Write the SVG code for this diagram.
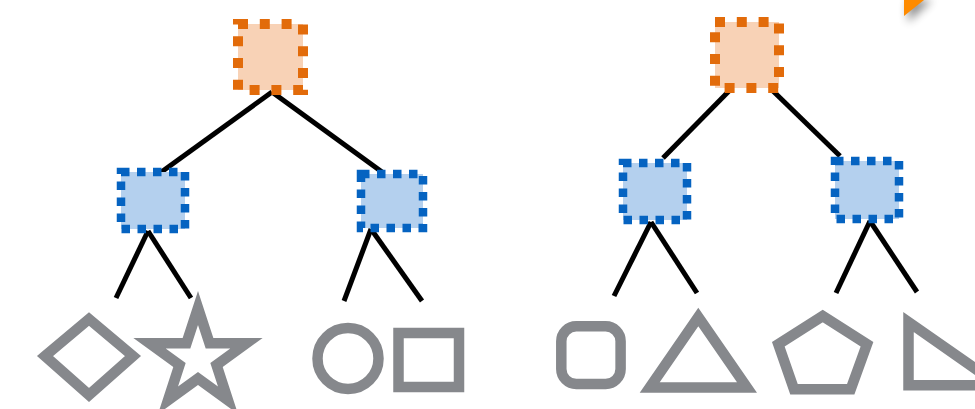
<svg xmlns="http://www.w3.org/2000/svg" width="975" height="409" viewBox="0 0 975 409">
<style>
.root{fill:#f8d2b6;stroke:#e26b0a;stroke-width:10;stroke-dasharray:10 11.8}
.child{fill:#b4d0ee;stroke:#0563c1;stroke-width:8.5;stroke-dasharray:8.5 7.5}
.edge{stroke:#000;stroke-width:5;fill:none}
.shape{fill:none;stroke:#86888c;stroke-width:10.5;stroke-linejoin:miter}
</style>
<defs>
<filter id="sh" x="-100%" y="-100%" width="300%" height="300%">
<feGaussianBlur stdDeviation="5"/>
</filter>
</defs>
<g id="connectors">
<line class="edge" x1="272" y1="92" x2="160" y2="173"/>
<line class="edge" x1="272" y1="92" x2="382" y2="172"/>
<line class="edge" x1="148" y1="231" x2="116" y2="298"/>
<line class="edge" x1="148" y1="231" x2="191" y2="298"/>
<line class="edge" x1="371" y1="229" x2="344" y2="301"/>
<line class="edge" x1="371" y1="229" x2="422" y2="301"/>
<line class="edge" x1="729" y1="91" x2="663" y2="158"/>
<line class="edge" x1="773" y1="91" x2="840" y2="156"/>
<line class="edge" x1="651" y1="222" x2="614" y2="296"/>
<line class="edge" x1="651" y1="222" x2="697" y2="293"/>
<line class="edge" x1="870" y1="221" x2="836" y2="293"/>
<line class="edge" x1="870" y1="221" x2="917" y2="292"/>
</g>
<g id="root-left"><rect class="root" x="238" y="24" width="65" height="66"/></g>
<g id="child-left-a"><rect class="child" x="121" y="172" width="64" height="57"/></g>
<g id="child-left-b"><rect class="child" x="361" y="174" width="62" height="54"/></g>
<g id="root-right"><rect class="root" x="715" y="22" width="64" height="66"/></g>
<g id="child-right-a"><rect class="child" x="623" y="163" width="64" height="57"/></g>
<g id="child-right-b"><rect class="child" x="835" y="161" width="64" height="58"/></g>
<g id="diamond"><polygon class="shape" points="45,356 89,319 133,356 89,395"/></g>
<g id="star"><polygon class="shape" points="198,308 209.5,343.2 246.5,343.2 216.5,365 228,400.3 198,378.5 168,400.3 179.5,365 149.5,343.2 186.5,343.2"/></g>
<g id="circle"><circle class="shape" cx="348" cy="358.5" r="30.5"/></g>
<g id="square"><rect class="shape" x="398.5" y="333" width="60.5" height="54"/></g>
<g id="rounded-square"><rect class="shape" x="561.3" y="326.3" width="59.3" height="57.7" rx="15"/></g>
<g id="triangle"><polygon class="shape" points="698.3,317 747,387.5 649.7,387.5"/></g>
<g id="pentagon"><polygon class="shape" points="822.7,316 867,344.2 850.7,389.3 794,389.3 778.3,344.2"/></g>
<g id="right-triangle"><polygon class="shape" points="908.5,322 999,385.3 908.5,385.3"/></g>
<g id="corner-arrow">
<polygon points="908,0 932,0 908,22" fill="#000" opacity="0.45" filter="url(#sh)"/>
<polygon points="904,0 924,0 904,16" fill="#fe8b00"/>
</g>
</svg>
